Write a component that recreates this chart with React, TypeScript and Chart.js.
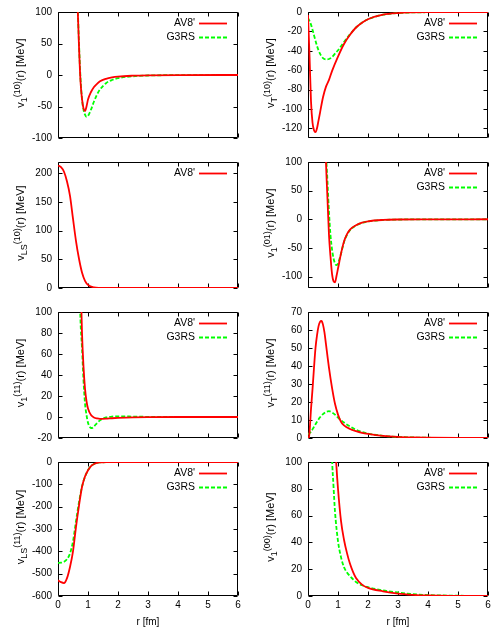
import React, { useEffect, useRef } from 'react';
import { Chart, registerables } from 'chart.js';

Chart.register(...registerables);

const FONT = "'Liberation Sans', Arial, Helvetica, sans-serif";

// x axis (r [fm]) ticks shared by all panels
const rTicks = [0, 1, 2, 3, 4, 5, 6];

// Panel 1: v_1^(10)
const p1Ticks = [-100, -50, 0, 50, 100];
const p1AvR = [0.5, 0.6, 0.65, 0.7, 0.75, 0.8, 0.85, 0.9, 0.95, 1.0, 1.1, 1.2, 1.3, 1.4, 1.6, 1.8, 2.0, 2.5, 3, 4, 6];
const p1AvV = [500, 190, 115, 45, -10, -38, -53, -57, -50, -39, -27, -19, -14, -10, -6, -3.8, -2.5, -1.1, -0.5, -0.1, 0];
const p1GrR = [0.5, 0.6, 0.65, 0.7, 0.75, 0.8, 0.85, 0.9, 0.95, 1.0, 1.1, 1.2, 1.3, 1.4, 1.6, 1.8, 2.0, 2.5, 3, 4, 6];
const p1GrV = [500, 200, 120, 50, -5, -38, -55, -63, -66.5, -65, -55, -42, -31, -23, -13, -8, -5, -2, -0.8, -0.2, 0];

// Panel 2: v_T^(10)
const p2Ticks = [-120, -100, -80, -60, -40, -20, 0];
const p2AvR = [0, 0.05, 0.1, 0.15, 0.2, 0.25, 0.3, 0.35, 0.4, 0.5, 0.6, 0.7, 0.8, 1.0, 1.2, 1.4, 1.6, 1.8, 2.0, 2.5, 3, 4, 6];
const p2AvV = [-3, -45, -92, -114, -122, -124, -120, -112, -104, -88, -77, -70, -61, -46, -33, -23.5, -16, -11, -7.5, -2.8, -1.1, -0.2, 0];
const p2GrR = [0, 0.1, 0.2, 0.3, 0.4, 0.5, 0.6, 0.7, 0.8, 0.9, 1.0, 1.2, 1.4, 1.6, 1.8, 2.0, 2.5, 3, 4, 6];
const p2GrV = [-6, -13, -24, -35, -43, -47.5, -49, -48.5, -46.5, -43, -39.5, -31, -23, -16, -11, -7.5, -2.8, -1.1, -0.2, 0];

// Panel 3: v_LS^(10)
const p3Ticks = [0, 50, 100, 150, 200];
const p3AvR = [0, 0.1, 0.2, 0.3, 0.4, 0.5, 0.6, 0.7, 0.8, 0.9, 1.0, 1.2, 1.4, 1.6, 2, 3, 6];
const p3AvV = [214, 211, 203, 186, 161, 121, 82, 51, 27, 12.5, 5.5, 1, 0.2, 0, 0, 0, 0];

// Panel 4: v_1^(01)
const p4Ticks = [-100, -50, 0, 50, 100];
const p4AvR = [0.5, 0.55, 0.6, 0.65, 0.7, 0.75, 0.8, 0.85, 0.9, 0.95, 1.0, 1.1, 1.2, 1.3, 1.4, 1.6, 1.8, 2.0, 2.5, 3, 4, 6];
const p4AvV = [350, 200, 100, 35, -28, -65, -95, -108, -110, -99, -86, -60, -39, -26, -18, -10.5, -6, -3.6, -1.2, -0.4, -0.1, 0];
const p4GrR = [0.5, 0.55, 0.6, 0.65, 0.7, 0.75, 0.8, 0.85, 0.9, 0.95, 1.0, 1.1, 1.2, 1.3, 1.4, 1.6, 1.8, 2.0, 2.5, 3, 4, 6];
const p4GrV = [350, 210, 120, 65, 12, -28, -52, -68, -77, -80, -77, -60, -40, -27, -19, -11, -6.3, -3.8, -1.3, -0.5, -0.1, 0];

// Panel 5: v_1^(11)
const p5Ticks = [-20, 0, 20, 40, 60, 80, 100];
const p5AvR = [0.6, 0.7, 0.75, 0.8, 0.85, 0.9, 0.95, 1.0, 1.1, 1.2, 1.3, 1.4, 1.6, 1.8, 2.0, 2.5, 3, 4, 6];
const p5AvV = [450, 200, 135, 80, 48, 27, 15, 8, 1.8, -0.5, -1.4, -1.8, -1.6, -1.2, -0.9, -0.4, -0.15, 0, 0];
const p5GrR = [0.6, 0.7, 0.75, 0.8, 0.85, 0.9, 0.95, 1.0, 1.05, 1.1, 1.15, 1.2, 1.3, 1.4, 1.5, 1.6, 1.8, 2.0, 2.5, 3, 4, 6];
const p5GrV = [350, 150, 92, 66, 35, 13, 2, -5.5, -9, -10.5, -10.3, -9, -5.8, -3.2, -1.4, -0.4, 0.4, 0.6, 0.4, 0.15, 0, 0];

// Panel 6: v_T^(11)
const p6Ticks = [0, 10, 20, 30, 40, 50, 60, 70];
const p6AvR = [0, 0.05, 0.1, 0.15, 0.2, 0.25, 0.3, 0.35, 0.4, 0.45, 0.5, 0.55, 0.6, 0.7, 0.8, 0.9, 1.0, 1.1, 1.2, 1.4, 1.6, 1.8, 2.0, 2.5, 3, 3.5, 4, 5, 6];
const p6AvV = [-3, 3, 16, 27, 39, 50, 57, 62, 64.5, 65, 63, 58.5, 52, 39, 28, 19, 13, 9, 7, 5, 3.8, 2.9, 2.3, 1.2, 0.6, 0.3, 0.15, 0, 0];
const p6GrR = [0, 0.1, 0.2, 0.3, 0.4, 0.5, 0.6, 0.7, 0.8, 0.9, 1.0, 1.2, 1.4, 1.6, 1.8, 2.0, 2.5, 3, 3.5, 4, 5, 6];
const p6GrV = [2, 3.5, 6.2, 9, 11.5, 13.3, 14.5, 14.9, 14.2, 13, 11.3, 8.6, 6.4, 4.6, 3.4, 2.5, 1.2, 0.6, 0.3, 0.15, 0, 0];

// Panel 7: v_LS^(11)
const p7Ticks = [-600, -500, -400, -300, -200, -100, 0];
const p7AvR = [0, 0.1, 0.2, 0.3, 0.4, 0.5, 0.6, 0.7, 0.8, 0.9, 1.0, 1.1, 1.2, 1.3, 1.4, 1.6, 2, 3, 6];
const p7AvV = [-530, -538, -542, -520, -470, -400, -290, -195, -112, -65, -37, -18, -9, -4, -2, -0.5, 0, 0, 0];
const p7GrR = [0, 0.1, 0.2, 0.3, 0.4, 0.5, 0.6, 0.7, 0.8, 0.9, 1.0, 1.1, 1.2, 1.3, 1.4, 1.6, 2, 3, 6];
const p7GrV = [-452, -451, -447, -435, -410, -355, -265, -180, -110, -66, -37, -18, -9, -4, -2, -0.5, 0, 0, 0];

// Panel 8: v_1^(00)
const p8Ticks = [0, 20, 40, 60, 80, 100];
const p8AvR = [0.8, 0.9, 0.95, 1.0, 1.1, 1.2, 1.3, 1.4, 1.5, 1.6, 1.8, 2.0, 2.5, 3, 3.5, 4, 5, 6];
const p8AvV = [200, 118, 96, 80, 56, 42, 32, 24, 18, 13.5, 8.5, 6, 3.5, 1.8, 0.9, 0.4, 0.1, 0];
const p8GrR = [0.7, 0.8, 0.85, 0.9, 1.0, 1.1, 1.2, 1.3, 1.4, 1.5, 1.6, 1.8, 2.0, 2.5, 3, 3.5, 4, 5, 6];
const p8GrV = [200, 104, 82, 63, 41, 29, 21.5, 17.5, 14.8, 12.5, 10.5, 8, 6.6, 4.2, 2.6, 1.4, 0.7, 0.2, 0];

type Series = { label: string; r: number[]; v: number[]; green: boolean };
type PanelDef = {
  col: number; row: number; yMin: number; yMax: number; yTicks: number[];
  sub: string; sup: string; series: Series[];
};

const AV = (r: number[], v: number[]): Series => ({ label: "AV8'", r, v, green: false });
const GR = (r: number[], v: number[]): Series => ({ label: 'G3RS', r, v, green: true });

const panels: PanelDef[] = [
  { col: 0, row: 0, yMin: -100, yMax: 100, yTicks: p1Ticks, sub: '1', sup: '(10)', series: [AV(p1AvR, p1AvV), GR(p1GrR, p1GrV)] },
  { col: 1, row: 0, yMin: -130, yMax: 0, yTicks: p2Ticks, sub: 'T', sup: '(10)', series: [AV(p2AvR, p2AvV), GR(p2GrR, p2GrV)] },
  { col: 0, row: 1, yMin: 0, yMax: 220, yTicks: p3Ticks, sub: 'LS', sup: '(10)', series: [AV(p3AvR, p3AvV)] },
  { col: 1, row: 1, yMin: -120, yMax: 100, yTicks: p4Ticks, sub: '1', sup: '(01)', series: [AV(p4AvR, p4AvV), GR(p4GrR, p4GrV)] },
  { col: 0, row: 2, yMin: -20, yMax: 100, yTicks: p5Ticks, sub: '1', sup: '(11)', series: [AV(p5AvR, p5AvV), GR(p5GrR, p5GrV)] },
  { col: 1, row: 2, yMin: 0, yMax: 70, yTicks: p6Ticks, sub: 'T', sup: '(11)', series: [AV(p6AvR, p6AvV), GR(p6GrR, p6GrV)] },
  { col: 0, row: 3, yMin: -600, yMax: 0, yTicks: p7Ticks, sub: 'LS', sup: '(11)', series: [AV(p7AvR, p7AvV), GR(p7GrR, p7GrV)] },
  { col: 1, row: 3, yMin: 0, yMax: 100, yTicks: p8Ticks, sub: '1', sup: '(00)', series: [AV(p8AvR, p8AvV), GR(p8GrR, p8GrV)] },
];

const framePlugin = {
  id: 'gnuframe',
  beforeDatasetsDraw(chart: any) {
    const { ctx, chartArea: a, scales } = chart;
    const L = Math.round(a.left) + 0.5, R = Math.round(a.right) - 0.5;
    const T = Math.round(a.top) + 0.5, B = Math.round(a.bottom) - 0.5;
    ctx.save();
    ctx.strokeStyle = '#000';
    ctx.lineWidth = 1;
    ctx.beginPath();
    ctx.rect(L, T, R - L, B - T);
    const tl = 4;
    scales.x.ticks.forEach((t: any) => {
      const px = Math.round(scales.x.getPixelForValue(t.value)) + 0.5;
      ctx.moveTo(px, B); ctx.lineTo(px, B - tl);
      ctx.moveTo(px, T); ctx.lineTo(px, T + tl);
    });
    scales.y.ticks.forEach((t: any) => {
      const py = Math.round(scales.y.getPixelForValue(t.value)) + 0.5;
      ctx.moveTo(L, py); ctx.lineTo(L + tl, py);
      ctx.moveTo(R, py); ctx.lineTo(R - tl, py);
    });
    ctx.stroke();
    ctx.restore();
  },
};

const keyPlugin = {
  id: 'gnukey',
  afterDatasetsDraw(chart: any) {
    const { ctx, chartArea: a } = chart;
    ctx.save();
    ctx.font = `10.5px ${FONT}`;
    ctx.fillStyle = '#000';
    ctx.textAlign = 'right';
    ctx.textBaseline = 'middle';
    chart.data.datasets.forEach((ds: any, i: number) => {
      const y = Math.round(a.top + 11 + i * 14) + 0.5;
      ctx.fillText(ds.label, a.left + 137, y);
      ctx.save();
      ctx.strokeStyle = ds.borderColor;
      ctx.lineWidth = ds.borderWidth;
      ctx.setLineDash(ds.borderDash || []);
      ctx.beginPath();
      ctx.moveTo(a.left + 141, y);
      ctx.lineTo(a.left + 169, y);
      ctx.stroke();
      ctx.restore();
    });
    ctx.restore();
  },
};

function makeLabelPlugin(sub: string, sup: string) {
  return {
    id: 'gnuylabel',
    afterDraw(chart: any) {
      const { ctx, chartArea: a } = chart;
      const big = `11px ${FONT}`;
      const small = `9px ${FONT}`;
      const parts = [
        { t: 'v', f: big, dy: 0 },
        { t: sub, f: small, dy: 3 },
        { t: sup, f: small, dy: -4.5 },
        { t: '(r) [MeV]', f: big, dy: 0 },
      ];
      ctx.save();
      let total = 0;
      const widths = parts.map((p) => { ctx.font = p.f; const w = ctx.measureText(p.t).width; total += w; return w; });
      const cy = (a.top + a.bottom) / 2 - 2;
      ctx.translate(a.left - 34, cy);
      ctx.rotate(-Math.PI / 2);
      ctx.fillStyle = '#000';
      ctx.textAlign = 'left';
      ctx.textBaseline = 'alphabetic';
      let x = -total / 2;
      parts.forEach((p, i) => {
        ctx.font = p.f;
        ctx.fillText(p.t, x, p.dy);
        x += widths[i];
      });
      ctx.restore();
    },
  };
}

function Panel({ def }: { def: PanelDef }) {
  const ref = useRef<HTMLCanvasElement | null>(null);
  const isBottom = def.row === 3;
  const h = isBottom ? 179 : 150;
  useEffect(() => {
    const canvas = ref.current;
    if (!canvas) return;
    const tickFont = { family: FONT, size: 10 };
    const chart = new Chart(canvas, {
      type: 'line',
      data: {
        datasets: def.series.map((s) => ({
          label: s.label,
          data: s.r.map((r, i) => ({ x: r, y: s.v[i] })),
          borderColor: s.green ? '#00ff00' : '#ff0000',
          borderWidth: 1.8,
          borderDash: s.green ? [4, 2] : [],
          pointRadius: 0,
          fill: false,
          cubicInterpolationMode: 'monotone',
          clip: 0,
        })),
      },
      options: {
        animation: false,
        responsive: false,
        maintainAspectRatio: false,
        events: [],
        layout: { padding: { left: 0, right: 12, top: 9, bottom: isBottom ? 0 : 5 } },
        plugins: { legend: { display: false }, tooltip: { enabled: false }, title: { display: false } },
        scales: {
          x: {
            type: 'linear',
            min: 0,
            max: 6,
            afterBuildTicks: (s: any) => { s.ticks = rTicks.map((v) => ({ value: v })); },
            afterFit: (s: any) => { s.height = isBottom ? 33 : 0; },
            grid: { display: false, drawTicks: false },
            border: { display: false },
            ticks: { display: isBottom, font: tickFont, color: '#000', padding: 3, maxRotation: 0, autoSkip: false },
            title: { display: isBottom, text: 'r [fm]', font: tickFont, color: '#000', padding: { top: 0, bottom: 1 } },
          },
          y: {
            type: 'linear',
            min: def.yMin,
            max: def.yMax,
            afterBuildTicks: (s: any) => { s.ticks = def.yTicks.map((v) => ({ value: v })); },
            afterFit: (s: any) => { s.width = 58; },
            grid: { display: false, drawTicks: false },
            border: { display: false },
            ticks: { font: tickFont, color: '#000', padding: 6, autoSkip: false },
          },
        },
      } as any,
      plugins: [framePlugin, keyPlugin, makeLabelPlugin(def.sub, def.sup)],
    });
    return () => chart.destroy();
  }, []);
  return (
    <canvas
      ref={ref}
      width={250}
      height={h}
      style={{ position: 'absolute', left: def.col * 250, top: def.row * 150, width: 250, height: h }}
    />
  );
}

export default function App() {
  return (
    <div style={{ position: 'fixed', left: 0, top: 0, width: 500, height: 629, background: '#fff', overflow: 'hidden' }}>
      {panels.map((p, i) => (
        <Panel key={i} def={p} />
      ))}
    </div>
  );
}
